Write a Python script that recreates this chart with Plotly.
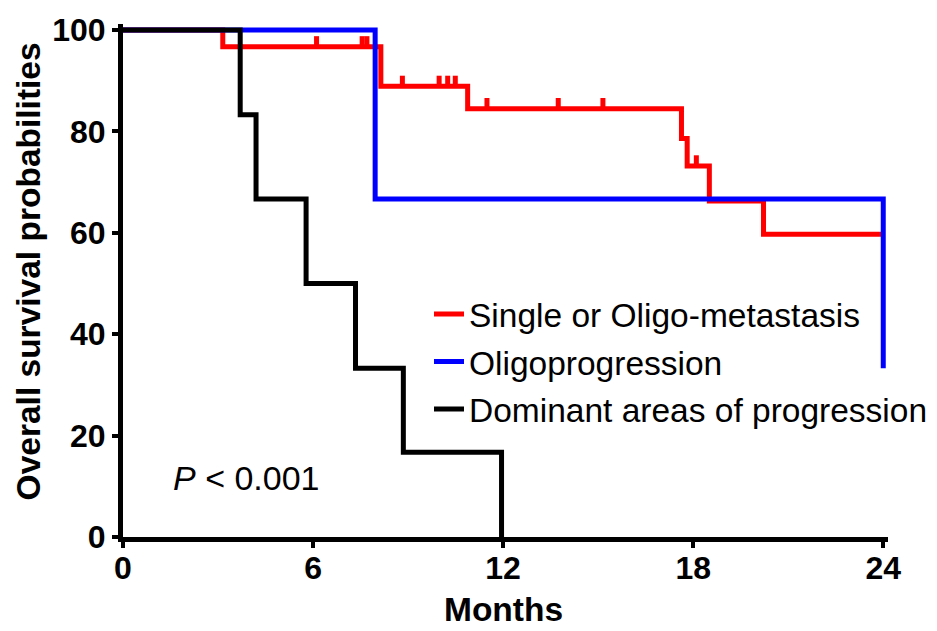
import plotly.graph_objects as go

# Kaplan-Meier step data (months, survival %)
single_t = [0, 3.15, 8.14, 10.88, 17.63, 17.81, 18.51, 20.22, 24]
single_s = [100, 96.7, 88.9, 84.5, 78.6, 73.2, 66.3, 59.7, 59.7]
single_cens_t = [6.11, 7.55, 7.7, 8.82, 9.98, 10.25, 10.49, 11.49, 13.74, 15.15, 18.1]
single_cens_s = [96.7, 96.7, 96.7, 88.9, 88.9, 88.9, 88.9, 84.5, 84.5, 84.5, 73.2]

oligo_t = [0, 7.96, 24, 24]
oligo_s = [100, 66.7, 66.7, 33.3]

dom_t = [0, 3.7, 4.2, 5.78, 7.34, 8.85, 11.95]
dom_s = [100, 83.3, 66.7, 50.0, 33.3, 16.7, 0]

names = ["Single or Oligo-metastasis", "Oligoprogression", "Dominant areas of progression"]
colors = ["#FF0000", "#0000FF", "#000000"]
x_ticks = [0, 6, 12, 18, 24]
y_ticks = [0, 20, 40, 60, 80, 100]

FONT = "Arial, Liberation Sans, sans-serif"

fig = go.Figure()
for t, s, n, c in [(single_t, single_s, names[0], colors[0]),
                   (oligo_t, oligo_s, names[1], colors[1]),
                   (dom_t, dom_s, names[2], colors[2])]:
    fig.add_trace(go.Scatter(x=t, y=s, mode="lines", name=n, legendgroup=n,
                             line=dict(color=c, width=5, shape="hv")))

fig.add_trace(go.Scatter(
    x=single_cens_t, y=single_cens_s, mode="markers", showlegend=False,
    marker=dict(size=2, color=colors[0]),
    error_y=dict(type="constant", value=2.1, symmetric=False, valueminus=0,
                 color=colors[0], thickness=5, width=0),
    hoverinfo="skip"))

fig.add_annotation(x=1.5, y=11.6, xref="x", yref="y", text="<i>P</i> < 0.001",
                   showarrow=False, xanchor="left", yanchor="middle",
                   font=dict(family=FONT, size=34, color="black"))

fig.add_annotation(x=0.497, y=-0.142, xref="paper", yref="paper", text="<b>Months</b>",
                   showarrow=False, xanchor="center", yanchor="middle",
                   font=dict(family=FONT, size=33.5, color="black"))
fig.add_annotation(x=-0.124, y=0.518, xref="paper", yref="paper",
                   text="<b>Overall survival probabilities</b>", textangle=-90,
                   showarrow=False, xanchor="center", yanchor="middle",
                   font=dict(family=FONT, size=33.5, color="black"))

fig.update_layout(
    width=937, height=631,
    margin=dict(l=115, r=55, t=16, b=102),
    plot_bgcolor="white", paper_bgcolor="white",
    font=dict(family=FONT, color="black"),
    legend=dict(x=0.40, y=0.49, xanchor="left", yanchor="top",
                font=dict(family=FONT, size=33.5, color="black"),
                bgcolor="rgba(0,0,0,0)", tracegroupgap=1),
    xaxis=dict(range=[0, 24.15], tickvals=x_ticks, ticktext=[str(v) for v in x_ticks],
               automargin=False, ticklabelstandoff=-7,
               showgrid=False, zeroline=False, showline=True, linecolor="black", linewidth=5,
               ticks="outside", ticklen=6, tickwidth=4, tickcolor="black",
               tickfont=dict(family=FONT, size=32, color="black", weight="bold")),
    yaxis=dict(range=[0, 101.2], tickvals=y_ticks, ticktext=[str(v) for v in y_ticks],
               automargin=False,
               showgrid=False, zeroline=False, showline=True, linecolor="black", linewidth=5,
               ticks="outside", ticklen=6, tickwidth=4, tickcolor="black",
               tickfont=dict(family=FONT, size=32, color="black", weight="bold")),
)

fig.write_html("out.html")
